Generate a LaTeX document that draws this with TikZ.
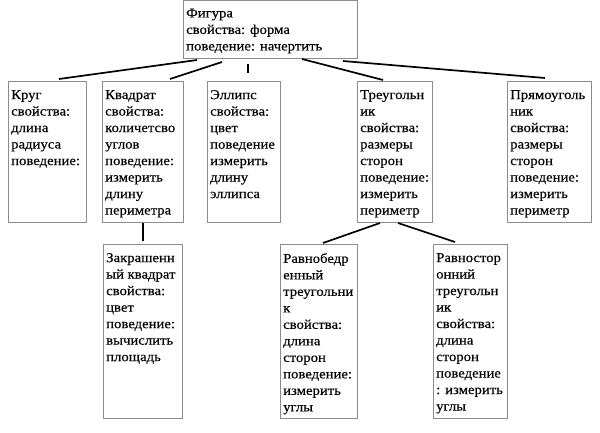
\documentclass[tikz,border=0pt]{standalone}
\usepackage{fontspec}
\setmainfont{Liberation Serif}[FakeStretch=1.09,FakeBold=0.3]
\begin{document}
\begin{tikzpicture}[x=1pt,y=-1pt,
  boxshape/.style={draw=black!45, line width=0.8pt, anchor=north west, inner sep=0pt},
  txt/.style={anchor=north west, inner sep=0pt, align=left, font=\fontsize{13.5}{16.5}\selectfont},
  conn/.style={draw=black, line width=1.7pt}]
\useasboundingbox (0,0) rectangle (600,433);
% boxes
\node[boxshape, minimum width=174pt, minimum height=58pt] (fig) at (183,0.4) {};
\node[boxshape, minimum width=78pt, minimum height=141pt] (krug) at (8,81) {};
\node[boxshape, minimum width=81pt, minimum height=141pt] (kvad) at (102,81) {};
\node[boxshape, minimum width=73pt, minimum height=141pt] (ell) at (207,81) {};
\node[boxshape, minimum width=75pt, minimum height=141pt] (treu) at (357,81) {};
\node[boxshape, minimum width=84pt, minimum height=141pt] (pryam) at (507,81) {};
\node[boxshape, minimum width=79pt, minimum height=174pt] (zakr) at (103,244) {};
\node[boxshape, minimum width=77pt, minimum height=174pt] (ravnob) at (280,244) {};
\node[boxshape, minimum width=74pt, minimum height=174pt] (ravnos) at (433,244) {};
% texts
\node[txt] (tfig) at ([shift={(3,8)}]fig.north west) {Фигура\\свойства: форма\\поведение: начертить};
\node[txt] (tkrug) at ([shift={(3,9)}]krug.north west) {Круг\\свойства:\\длина\\радиуса\\поведение:};
\node[txt] (tkvad) at ([shift={(3,9)}]kvad.north west) {Квадрат\\свойства:\\количетсво\\углов\\поведение:\\измерить\\длину\\периметра};
\node[txt] (tell) at ([shift={(3,9)}]ell.north west) {Эллипс\\свойства:\\цвет\\поведение\\измерить\\длину\\эллипса};
\node[txt] (ttreu) at ([shift={(3,9)}]treu.north west) {Треугольн\\ик\\свойства:\\размеры\\сторон\\поведение:\\измерить\\периметр};
\node[txt] (tpryam) at ([shift={(3,9)}]pryam.north west) {Прямоуголь\\ник\\свойства:\\размеры\\сторон\\поведение:\\измерить\\периметр};
\node[txt] (tzakr) at ([shift={(3,9)}]zakr.north west) {Закрашенн\\ый квадрат\\свойства:\\цвет\\поведение:\\вычислить\\площадь};
\node[txt] (travnob) at ([shift={(3,9)}]ravnob.north west) {Равнобедр\\енный\\треугольни\\к\\свойства:\\длина\\сторон\\поведение:\\измерить\\углы};
\node[txt] (travnos) at ([shift={(3,9)}]ravnos.north west) {Равностор\\онний\\треугольн\\ик\\свойства:\\длина\\сторон\\поведение\\: измерить\\углы};
% connector ends
\coordinate (a1) at (197,60); \coordinate (b1) at (59,79);
\coordinate (a2) at (222,62); \coordinate (b2) at (170,79);
\coordinate (a3) at (248,64); \coordinate (b3) at (248,73);
\coordinate (a4) at (302,59); \coordinate (b4) at (383,80);
\coordinate (a5) at (343,61); \coordinate (b5) at (545,78);
\coordinate (a6) at (143,223); \coordinate (b6) at (143,241);
\coordinate (a7) at (380,223); \coordinate (b7) at (323,243);
\coordinate (a8) at (398,223); \coordinate (b8) at (455,242);
\draw[conn] (a1) -- (b1);
\draw[conn] (a2) -- (b2);
\draw[conn] (a3) -- (b3);
\draw[conn] (a4) -- (b4);
\draw[conn] (a5) -- (b5);
\draw[conn] (a6) -- (b6);
\draw[conn] (a7) -- (b7);
\draw[conn] (a8) -- (b8);
\end{tikzpicture}
\end{document}
